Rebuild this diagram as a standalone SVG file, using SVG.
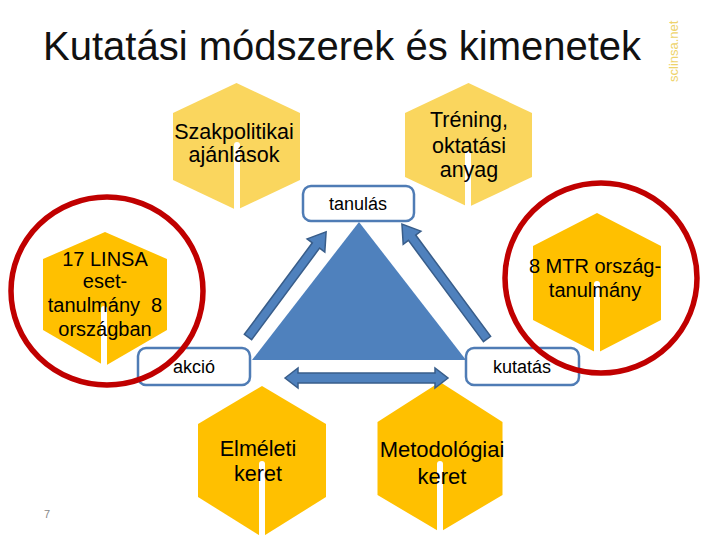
<svg xmlns="http://www.w3.org/2000/svg" width="720" height="540" viewBox="0 0 720 540">
<style>
text{font-family:"Liberation Sans",Arial,sans-serif;fill:#000}
.hexp{fill:#FAD65E}
.hexg{fill:#FFC000}
.slit{stroke:#fff;stroke-width:6;stroke-linecap:round;fill:none}
.ht{font-size:21.5px;text-anchor:middle}
.box{fill:#fff;stroke:#4F7CB5;stroke-width:2.5}
.bt{font-size:18px;text-anchor:middle}
.arr{fill:#4F81BD;stroke:#385D8A;stroke-width:1.5;stroke-linejoin:miter}
.ring{fill:none;stroke:#C00000;stroke-width:5.5}
</style>
<rect width="720" height="540" fill="#fff"/>
<text x="43" y="60" style="font-size:40px;fill:#111">Kutatási módszerek és kimenetek</text>
<text transform="translate(678,82) rotate(-90)" style="font-size:13px;fill:#EED36A">sclinsa.net</text>
<text x="44" y="518" style="font-size:11px;fill:#888">7</text>

<g id="hex-szakpolitikai">
<polygon class="hexp" points="236.5,83 300,113 300,180 236.5,210 173,180 173,113"/>
<line class="slit" x1="237" y1="145" x2="237" y2="212"/>
<text class="ht" x="234" y="139">Szakpolitikai</text>
<text class="ht" x="234" y="162">ajánlások</text>
</g>
<g id="hex-trening">
<polygon class="hexp" points="468.5,83 532,113 532,177 468.5,207 405,177 405,113"/>
<line class="slit" x1="468" y1="154" x2="468" y2="209"/>
<text class="ht" x="469" y="127">Tréning,</text>
<text class="ht" x="469" y="153">oktatási</text>
<text class="ht" x="469" y="177">anyag</text>
</g>
<g id="hex-linsa">
<polygon class="hexg" points="105,232 167,259 167,330 105,366 43,330 43,259"/>
<line class="slit" x1="104" y1="309" x2="104" y2="368"/>
<text class="ht" style="font-size:20px" x="105" y="266">17 LINSA</text>
<text class="ht" style="font-size:20px" x="105" y="288">eset-</text>
<text class="ht" style="font-size:20px;white-space:pre" x="105" y="312">tanulmány  8</text>
<text class="ht" style="font-size:20px" x="105" y="336">országban</text>
</g>
<g id="hex-mtr">
<polygon class="hexg" points="597,213 661,246 661,320 597,353 533,320 533,246"/>
<line class="slit" x1="597" y1="284" x2="597" y2="355"/>
<text class="ht" style="font-size:20px" x="595" y="273">8 MTR ország-</text>
<text class="ht" style="font-size:20px" x="595" y="297">tanulmány</text>
</g>
<g id="hex-elmeleti">
<polygon class="hexg" points="262,386 326,424 326,497 262,537 198,497 198,424"/>
<line class="slit" x1="262" y1="464" x2="262" y2="539"/>
<text class="ht" x="258" y="456">Elméleti</text>
<text class="ht" x="258" y="481">keret</text>
</g>
<g id="hex-metodologiai">
<polygon class="hexg" points="440,382 502.5,422 502.5,495 440,532 377.5,495 377.5,422"/>
<line class="slit" x1="440" y1="464" x2="440" y2="534"/>
<text class="ht" style="font-size:22px" x="442" y="457">Metodológiai</text>
<text class="ht" style="font-size:22px" x="442" y="484">keret</text>
</g>

<g id="triangle">
<polygon points="359,222 252,360 466,360" fill="#4F81BD"/>
</g>

<g id="connectors">
<polygon class="arr" transform="translate(248,337) rotate(-53.4)" points="0,-4.5 114,-4.5 114,-11 131,0 114,11 114,4.5 0,4.5"/>
<polygon class="arr" transform="translate(487,339) rotate(-126.5)" points="0,-4.5 126,-4.5 126,-11 143,0 126,11 126,4.5 0,4.5"/>
<polygon class="arr" points="285,378 298,368 298,373 435,373 435,368 448,378 435,388 435,383 298,383 298,388"/>
</g>

<g id="box-tanulas">
<rect class="box" x="303" y="186" width="111" height="35" rx="8"/>
<text class="bt" x="358" y="210">tanulás</text>
</g>
<g id="box-akcio">
<rect class="box" x="138" y="348" width="112" height="37" rx="8"/>
<text class="bt" x="194" y="373">akció</text>
</g>
<g id="box-kutatas">
<rect class="box" x="466" y="348" width="113" height="37" rx="8"/>
<text class="bt" x="522" y="373">kutatás</text>
</g>

<g id="highlight-left">
<ellipse class="ring" cx="107" cy="291" rx="96" ry="94"/>
</g>
<g id="highlight-right">
<ellipse class="ring" cx="601" cy="278" rx="96" ry="95"/>
</g>
</svg>
